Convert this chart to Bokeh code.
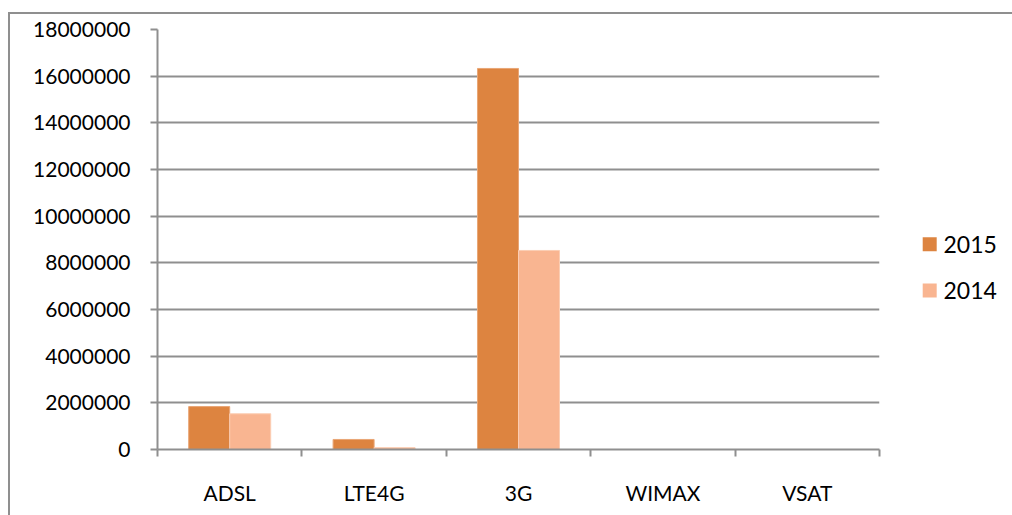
import numpy as np
from bokeh.plotting import figure
from bokeh.layouts import row
from bokeh.core.properties import value
from bokeh.models import (FixedTicker, BasicTickFormatter, Range1d, ColumnDataSource)
from bokeh.embed import file_html
from bokeh.resources import INLINE

categories = ["ADSL", "LTE4G", "3G", "WIMAX", "VSAT"]
series_names = ["2015", "2014"]
values_2015 = [1840000, 430000, 16330000, 0, 0]
values_2014 = [1530000, 80000, 8530000, 0, 0]
y_ticks = [0, 2000000, 4000000, 6000000, 8000000, 10000000,
           12000000, 14000000, 16000000, 18000000]

C2015 = "#DD8440"
C2014 = "#F9B591"
GRID = "#8f8f8f"
FONT = "Lato"

centers = np.arange(len(categories)) + 0.5
bw = 0.284

src = ColumnDataSource(dict(
    x15=centers - bw / 2, x14=centers + bw / 2,
    v15=values_2015, v14=values_2014))

p = figure(width=890, height=501, output_backend="svg", toolbar_location=None,
           x_range=Range1d(0, len(categories)), y_range=Range1d(0, 18000000),
           min_border_left=147, min_border_right=21, min_border_top=15,
           min_border_bottom=66)
p.outline_line_color = None
p.background_fill_color = "white"
p.border_fill_color = "white"

p.vbar(x="x15", top="v15", width=bw, source=src, fill_color=C2015,
       line_color="#E9A676", line_width=1)
p.vbar(x="x14", top="v14", width=bw, source=src, fill_color=C2014,
       line_color="#FBCDB3", line_width=1)

# y axis
ya = p.yaxis[0]
ya.ticker = FixedTicker(ticks=y_ticks)
ya.formatter = BasicTickFormatter(use_scientific=False)
ya.axis_line_color = GRID
ya.axis_line_width = 2
ya.major_tick_line_color = GRID
ya.major_tick_line_width = 2
ya.major_tick_out = 7
ya.major_tick_in = 0
ya.minor_tick_line_color = None
ya.major_label_text_font = FONT
ya.major_label_text_font_size = "21px"
ya.major_label_text_color = "black"
ya.major_label_standoff = 20

# x axis
xa = p.xaxis[0]
xa.ticker = FixedTicker(ticks=list(centers), minor_ticks=list(range(len(categories) + 1)))
xa.major_label_overrides = {float(c): n for c, n in zip(centers, categories)}
xa.axis_line_color = GRID
xa.axis_line_width = 2
xa.major_tick_line_color = None
xa.major_tick_out = 0
xa.major_tick_in = 0
xa.minor_tick_line_color = GRID
xa.minor_tick_line_width = 2
xa.minor_tick_out = 7
xa.minor_tick_in = 0
xa.major_label_text_font = FONT
xa.major_label_text_font_size = "21px"
xa.major_label_text_color = "black"
xa.major_label_standoff = 23

p.xgrid.grid_line_color = None
p.ygrid.ticker = FixedTicker(ticks=y_ticks)
p.ygrid.grid_line_color = GRID
p.ygrid.grid_line_width = 2

# legend panel: a separate pixel-unit figure to the right of the plot
pl = figure(width=112, height=501, output_backend="svg", toolbar_location=None,
            x_range=Range1d(0, 112), y_range=Range1d(0, 501),
            x_axis_location=None, y_axis_location=None,
            min_border=0, min_border_left=0, min_border_right=0,
            min_border_top=0, min_border_bottom=0)
pl.grid.visible = False
pl.outline_line_color = None
pl.border_fill_color = "white"
pl.background_fill_color = "white"

leg = ColumnDataSource(dict(
    x=[29.2, 29.2], y=[244.85, 189.65], label=series_names,
    color=[C2015, C2014]))
pl.rect(x="x", y="y", width=14, height=14, width_units="screen",
        height_units="screen", source=leg, fill_color="color", line_color=None)
pl.text(x=43, y="y", text="label", source=leg, text_font=value(FONT),
        text_font_size="23px", text_color="black", text_baseline="middle",
        text_align="left")

layout = row(p, pl, spacing=0)
layout.styles = {"margin-left": "8px", "margin-top": "12px",
                 "border-top": "2px solid #8f8f8f", "border-left": "2px solid #8f8f8f"}

open("out.html", "w").write(file_html(layout, INLINE))
